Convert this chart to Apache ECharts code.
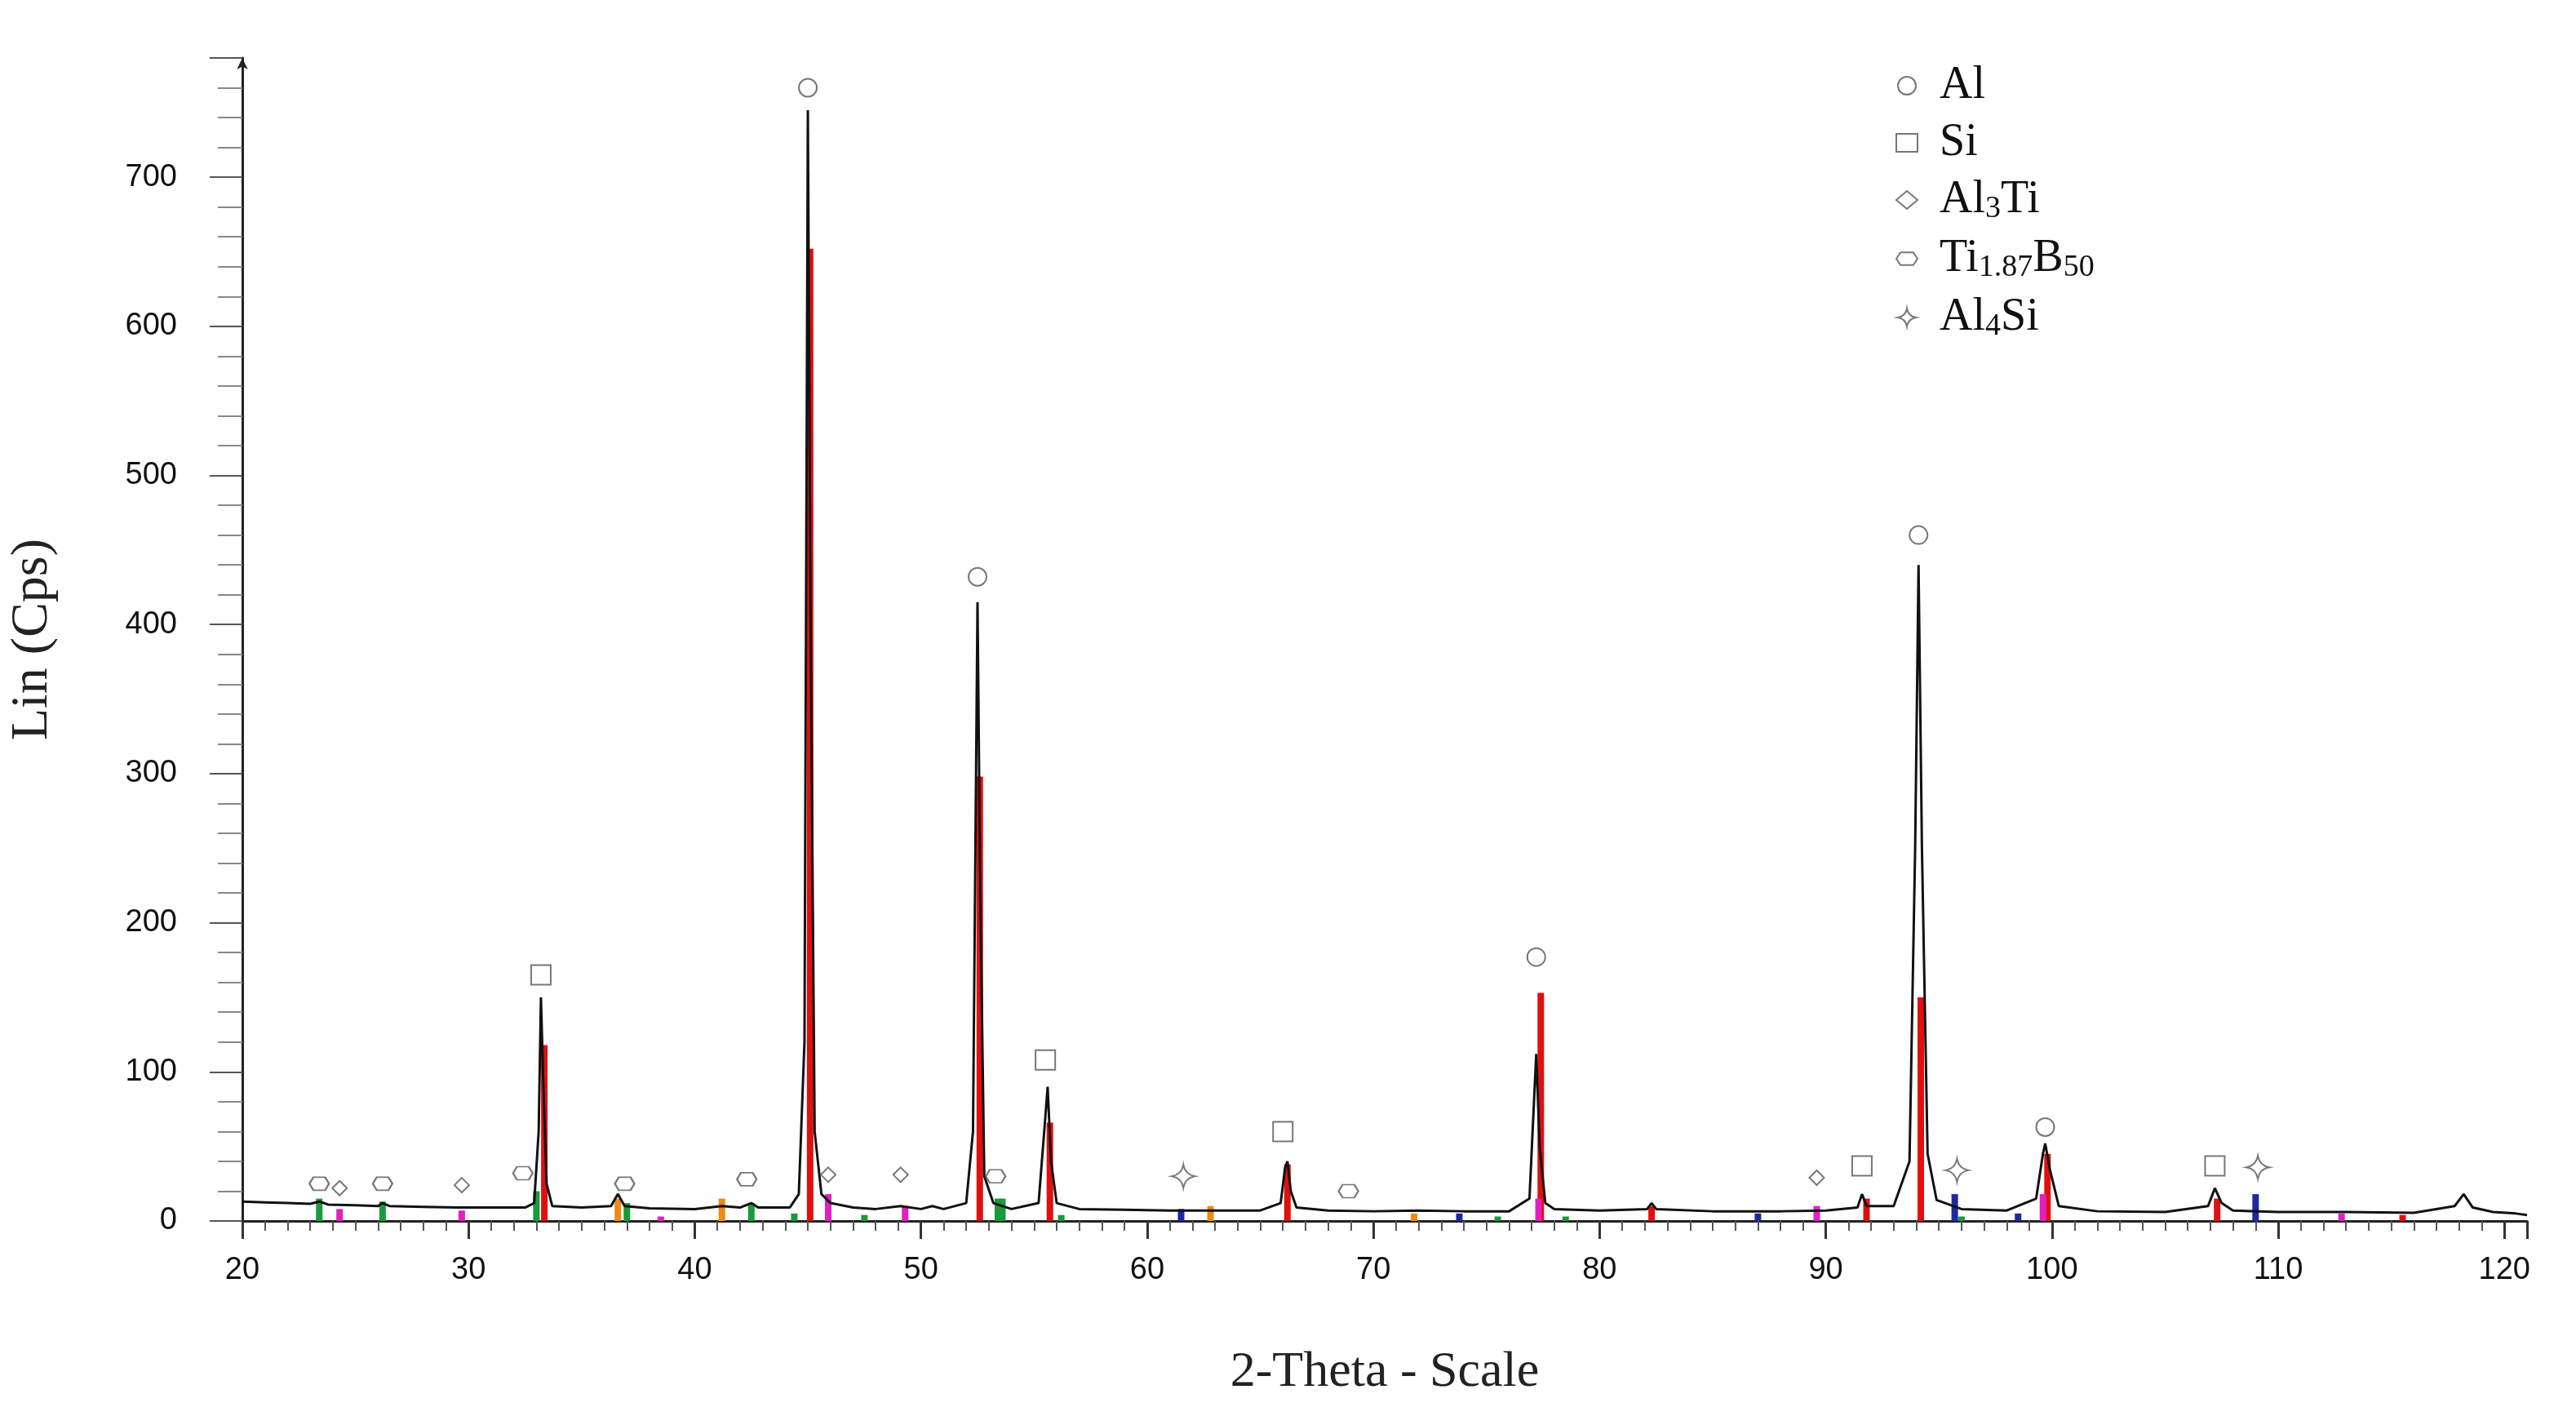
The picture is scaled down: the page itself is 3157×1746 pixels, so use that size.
<!DOCTYPE html>
<html>
<head>
<meta charset="utf-8">
<script src="https://cdn.jsdelivr.net/npm/echarts@6/dist/echarts.min.js"></script>
<style>html,body{margin:0;padding:0;background:#fff}#main{width:3157px;height:1746px}</style>
</head>
<body>
<div id="main"></div>
<script>
// measured pattern (2-theta, Cps)
const scan = [
  [20,13],[21,12.5],[22,12],[23,11.5],[23.4,13],[23.8,11],[25,10.5],[26,10],[26.2,12],[26.5,10],[28,9.5],[29.5,9],[31,9],[32.5,9],
  [32.9,12],[33.1,60],[33.2,150],[33.3,95],[33.45,25],[33.7,10],[35,9],[36.3,10],[36.6,18],[36.9,10],[38,8.5],[40,8],[41.2,10],[42,9],
  [42.5,12],[42.8,9],[44.2,9],[44.6,18],[44.85,120],[45.0,745],[45.12,400],[45.3,60],[45.6,18],[46,12],[47,9],[48,8],[49.1,10],[50,8],[50.5,10],[51,8],
  [52.0,12],[52.3,60],[52.5,415],[52.62,220],[52.8,30],[53.2,12],[54,8],[55.2,12],[55.5,70],[55.6,90],[55.75,40],[56,12],[57,8],[59,7.5],
  [61,7],[63,7],[65,7],[65.9,12],[66.1,36],[66.2,40],[66.35,20],[66.6,9],[68,7],[70,6.5],[72,7],[74,6.5],[76,6.5],[76.9,15],[77.1,80],
  [77.2,112],[77.35,50],[77.6,12],[78,8],[80,7],[82.1,8],[82.3,12],[82.5,8],[85,6.5],[88,6.5],[90,7],[91.4,9],[91.6,18],[91.8,10],[93,10],
  [93.7,40],[93.95,250],[94.1,440],[94.25,250],[94.5,45],[94.9,14],[96,8],[98,7],[99.3,15],[99.6,45],[99.7,52],[99.9,35],[100.3,10],
  [102,6.5],[105,6],[106.9,10],[107.2,22],[107.5,12],[108,7],[110,6],[113,6],[116,5.5],[117.8,10],[118.2,18],[118.6,9],[119.5,6],[120.5,5],[121,4]
];
// reference sticks per color: [2-theta, height]
const sticksRed = [[33.35,118],[45.1,652],[52.6,298],[55.7,66],[66.2,38],[77.4,153],[82.3,10],[91.8,15],[94.2,150],[99.8,45],[107.3,15],[115.5,4]];
const sticksGreen = [[23.4,15],[26.2,13],[33.0,20],[37.0,12],[42.5,12],[44.4,5],[47.5,4],[53.4,15],[53.6,15],[56.2,4],[75.5,3],[78.5,3],[96,3]];
const sticksMagenta = [[24.3,8],[29.7,7],[38.5,3],[45.9,18],[49.3,10],[77.3,15],[89.6,10],[99.6,18],[112.8,5]];
const sticksOrange = [[36.6,15],[41.2,15],[62.8,10],[71.8,5]];
const sticksBlue = [[61.5,8],[73.8,5],[87.0,5],[95.7,18],[98.5,5],[109.0,18]];
// phase markers
const markAl = [[45.0,760],[52.5,432],[77.2,177],[94.1,460],[99.7,63]];
const markSi = [[33.2,165],[55.5,108],[66.0,60],[91.6,37],[107.2,37]];
const markAl3Ti = [[24.3,22],[29.7,24],[45.9,31],[49.1,31],[89.6,29]];
const markTiB = [[23.4,25],[26.2,25],[32.4,32],[36.9,25],[42.3,28],[53.3,30],[68.9,20]];
const markAl4Si = [[61.6,30],[95.8,34],[109.1,36]];
const yTicks = [0,100,200,300,400,500,600,700];

const hexPath = 'path://M-10,0 L-6,-6 L6,-6 L10,0 L6,6 L-6,6 Z';
const starPath = 'path://M0,-10 Q1.5,-1.5 10,0 Q1.5,1.5 0,10 Q-1.5,1.5 -10,0 Q-1.5,-1.5 0,-10 Z';

function sticks(name, data, color) {
  return {
    type: 'custom', name: name, data: data, z: 3,
    renderItem: function (params, api) {
      const p0 = api.coord([api.value(0), 0]);
      const p1 = api.coord([api.value(0), api.value(1)]);
      return { type: 'rect', shape: { x: p0[0] - 4, y: p1[1], width: 8, height: p0[1] - p1[1] }, style: { fill: color } };
    }
  };
}
function marks(name, data, symbol, size) {
  return {
    type: 'scatter', name: name, data: data, symbol: symbol, symbolSize: size, z: 5,
    itemStyle: { color: '#fff', borderColor: '#555', borderWidth: 2 }
  };
}
const serif = 'Liberation Serif';
const rich = {
  a: { fontFamily: serif, fontSize: 56, color: '#111' },
  p: { fontFamily: serif, fontSize: 56, color: '#111', padding: [0, 0, 0, 22] },
  s: { fontFamily: serif, fontSize: 38, color: '#111', verticalAlign: 'bottom', padding: [22, 0, 0, 0] }
};

const chart = echarts.init(document.getElementById('main'));
chart.setOption({
  animation: false,
  grid: { left: 295, right: 60, top: 71, bottom: 250 },
  legend: {
    orient: 'vertical', left: 2318, top: 72, itemGap: 14, itemWidth: 26, itemHeight: 22,
    data: ['Al', 'Si', 'Al3Ti', 'Ti1.87B50', 'Al4Si'],
    formatter: function (n) {
      if (n === 'Al3Ti') return '{p|Al}{s|3}{a|Ti}';
      if (n === 'Ti1.87B50') return '{p|Ti}{s|1.87}{a|B}{s|50}';
      if (n === 'Al4Si') return '{p|Al}{s|4}{a|Si}';
      return '{p|' + n + '}';
    },
    textStyle: { rich: rich }
  },
  xAxis: {
    type: 'value', min: 20, max: 121, interval: 10,
    name: '2-Theta - Scale', nameLocation: 'middle', nameGap: 155,
    nameTextStyle: { fontFamily: serif, fontSize: 62, color: '#222' },
    axisLine: { lineStyle: { color: '#222', width: 3 } },
    axisTick: { length: 22, lineStyle: { color: '#333', width: 3 } },
    minorTick: { show: true, splitNumber: 10, length: 12, lineStyle: { color: '#555', width: 2 } },
    axisLabel: { fontFamily: 'Liberation Sans', fontSize: 38, color: '#111', margin: 42, showMaxLabel: false },
    splitLine: { show: false }
  },
  yAxis: {
    type: 'value', min: 0, max: 780, interval: 100,
    name: 'Lin (Cps)', nameLocation: 'middle', nameGap: 225, nameRotate: 90,
    nameTextStyle: { fontFamily: serif, fontSize: 64, color: '#222' },
    axisLine: { show: true, lineStyle: { color: '#222', width: 3 }, symbol: ['none', 'arrow'], symbolSize: [10, 14] },
    axisTick: { length: 40, lineStyle: { color: '#555', width: 2 } },
    minorTick: { show: true, splitNumber: 5, length: 30, lineStyle: { color: '#888', width: 2 } },
    axisLabel: { fontFamily: 'Liberation Sans', fontSize: 38, color: '#111', margin: 80,
      formatter: function (v) { return yTicks.indexOf(v) >= 0 ? String(v) : ''; } },
    splitLine: { show: false }
  },
  series: [
    { type: 'line', name: 'scan', data: scan, symbol: 'none', z: 4, lineStyle: { color: '#111', width: 3 } },
    sticks('red', sticksRed, '#e01010'),
    sticks('green', sticksGreen, '#1a9a3a'),
    sticks('magenta', sticksMagenta, '#e020c0'),
    sticks('orange', sticksOrange, '#f08a10'),
    sticks('blue', sticksBlue, '#1a2aa0'),
    marks('Al', markAl, 'circle', 22),
    marks('Si', markSi, 'rect', 24),
    marks('Al3Ti', markAl3Ti, 'diamond', 18),
    marks('Ti1.87B50', markTiB, hexPath, [24, 16]),
    marks('Al4Si', markAl4Si, starPath, 28)
  ]
});
</script>
</body>
</html>
